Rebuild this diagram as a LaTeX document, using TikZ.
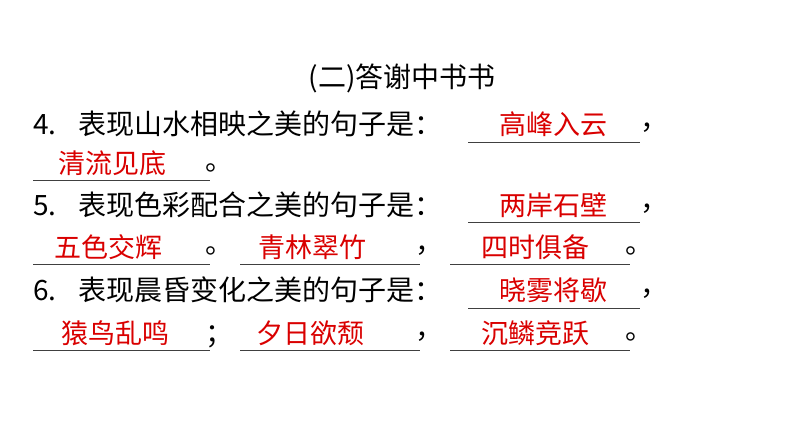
\documentclass[tikz,border=0pt]{standalone}
\usepackage{fontspec}
\newfontfamily\cjk{Noto Sans CJK SC}
\begin{document}
\begin{tikzpicture}[x=1pt,y=-1pt,
  blk/.style={inner sep=0pt,font=\cjk\fontsize{28}{28}\selectfont,text=black},
  ans/.style={inner sep=0pt,font=\cjk\fontsize{27}{27}\selectfont,text=red!85!black},
  ul/.style={draw=black!75,line width=0.9pt}]
\useasboundingbox (0,0) rectangle (794,447);
\node[blk] (t) at (402,78) {(二)答谢中书书};
% line 4
\node[blk,anchor=west] (q4) at (33,124) {4.\hspace{22pt}表现山水相映之美的句子是：};
\draw[ul] (468,142) -- (640,142);
\node[ans] (r1) at (553,124) {高峰入云};
\node[blk,anchor=west] (c1) at (640,128) {，};
\draw[ul] (33,180) -- (210,180);
\node[ans] (r2) at (112,163) {清流见底};
\node[blk,anchor=west] (c2) at (205,168) {。};
% line 5
\node[blk,anchor=west] (q5) at (33,205) {5.\hspace{22pt}表现色彩配合之美的句子是：};
\draw[ul] (468,222) -- (640,222);
\node[ans] (r3) at (553,205) {两岸石壁};
\node[blk,anchor=west] (c3) at (640,209) {，};
\draw[ul] (33,264) -- (210,264);
\node[ans] (r4) at (108,247) {五色交辉};
\node[blk,anchor=west] (c4) at (205,251) {。};
\draw[ul] (240,264) -- (420,264);
\node[ans] (r5) at (312,247) {青林翠竹};
\node[blk,anchor=west] (c5) at (415,251) {，};
\draw[ul] (450,264) -- (630,264);
\node[ans] (r6) at (535,247) {四时俱备};
\node[blk,anchor=west] (c6) at (625,251) {。};
% line 6
\node[blk,anchor=west] (q6) at (33,290) {6.\hspace{22pt}表现晨昏变化之美的句子是：};
\draw[ul] (468,308) -- (640,308);
\node[ans] (r7) at (553,290) {晓雾将歇};
\node[blk,anchor=west] (c7) at (640,294) {，};
\draw[ul] (33,350) -- (210,350);
\node[ans] (r8) at (115,333) {猿鸟乱鸣};
\node[blk,anchor=west] (c8) at (205,337) {；};
\draw[ul] (240,350) -- (420,350);
\node[ans] (r9) at (310,333) {夕日欲颓};
\node[blk,anchor=west] (c9) at (415,337) {，};
\draw[ul] (450,350) -- (630,350);
\node[ans] (r10) at (535,333) {沉鳞竞跃};
\node[blk,anchor=west] (c10) at (625,337) {。};
\end{tikzpicture}
\end{document}
